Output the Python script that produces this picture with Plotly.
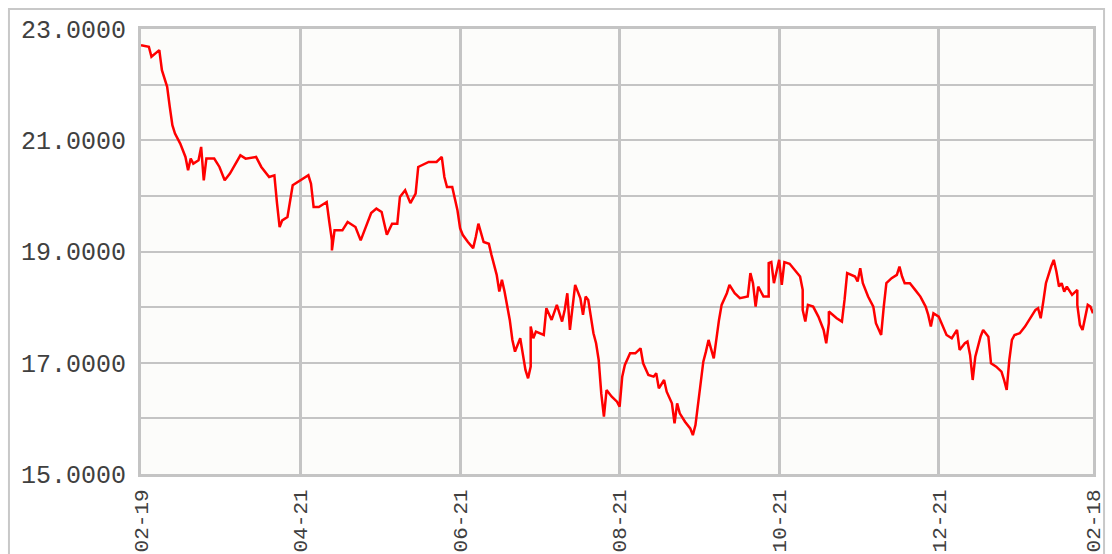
import pandas as pd
import plotly.graph_objects as go

# Days since 2021-02-19 and closing values
start_date = "2021-02-19"
day_offsets = [0, 3, 4, 6, 7, 8, 10, 11, 12, 13, 15, 17, 18, 19, 20, 22, 23, 24, 25, 28,
               30, 32, 34, 38, 40, 44, 46, 49, 51, 52, 53, 54, 56, 58, 60, 64, 65, 66, 68, 71,
               72, 73, 73, 74, 77, 79, 82, 84, 88, 90, 92, 94, 96, 98, 99, 101, 103, 105, 106, 110,
               113, 115, 116, 117, 119, 120, 121, 122, 123, 125, 127, 128, 129, 131, 133, 134, 136, 137, 138, 139,
               141, 142, 143, 145, 146, 147, 148, 149, 149, 150, 151, 154, 155, 157, 159, 161, 162, 163, 164, 165,
               166, 168, 169, 170, 171, 173, 174, 175, 176, 177, 178, 180, 182, 183, 184, 185, 187, 189, 191, 192,
               194, 196, 197, 198, 200, 201, 203, 204, 205, 206, 208, 210, 211, 212, 213, 214, 215, 216, 217, 219,
               220, 221, 222, 224, 225, 227, 229, 232, 233, 234, 235, 236, 238, 240, 240, 241, 242, 243, 244, 245,
               246, 248, 250, 252, 253, 253, 254, 255, 257, 259, 261, 262, 263, 263, 266, 268, 269, 270, 273, 274,
               275, 276, 278, 280, 281, 283, 284, 285, 287, 289, 290, 291, 292, 294, 296, 298, 300, 301, 302, 303,
               305, 307, 308, 310, 312, 313, 315, 316, 317, 318, 319, 321, 322, 324, 325, 327, 329, 330, 331, 332,
               333, 334, 336, 338, 340, 342, 343, 344, 345, 346, 348, 349, 350, 351, 352, 353, 354, 356, 358, 358,
               359, 360, 362, 363, 364]
values = [22.71, 22.68, 22.50, 22.59, 22.62, 22.26, 21.96, 21.60, 21.27, 21.12, 20.94, 20.70, 20.46, 20.67, 20.58, 20.64, 20.88, 20.28, 20.67, 20.67,
          20.52, 20.28, 20.40, 20.73, 20.67, 20.70, 20.52, 20.34, 20.37, 19.87, 19.44, 19.56, 19.62, 20.19, 20.25, 20.37, 20.22, 19.80, 19.80, 19.89,
          19.53, 19.20, 19.02, 19.38, 19.38, 19.53, 19.44, 19.20, 19.69, 19.77, 19.71, 19.30, 19.50, 19.50, 19.98, 20.10, 19.87, 20.04, 20.52, 20.61,
          20.61, 20.70, 20.34, 20.16, 20.16, 19.92, 19.74, 19.42, 19.30, 19.17, 19.06, 19.26, 19.50, 19.17, 19.14, 18.94, 18.58, 18.28, 18.49, 18.28,
          17.77, 17.41, 17.20, 17.44, 17.11, 16.87, 16.72, 16.93, 17.65, 17.44, 17.56, 17.50, 17.98, 17.77, 18.04, 17.74, 17.95, 18.25, 17.59, 18.01,
          18.40, 18.16, 17.86, 18.19, 18.13, 17.53, 17.35, 17.05, 16.44, 16.03, 16.51, 16.39, 16.30, 16.21, 16.75, 16.96, 17.17, 17.17, 17.26, 16.99,
          16.78, 16.75, 16.81, 16.54, 16.69, 16.48, 16.27, 15.91, 16.27, 16.09, 15.94, 15.82, 15.70, 15.88, 16.27, 16.63, 17.02, 17.20, 17.41, 17.08,
          17.47, 17.77, 18.04, 18.25, 18.40, 18.25, 18.16, 18.19, 18.61, 18.43, 18.01, 18.37, 18.19, 18.19, 18.79, 18.81, 18.43, 18.67, 18.85, 18.40,
          18.81, 18.78, 18.67, 18.55, 18.31, 17.95, 17.74, 18.04, 18.01, 17.83, 17.59, 17.35, 17.71, 17.92, 17.80, 17.74, 18.13, 18.61, 18.55, 18.46,
          18.70, 18.43, 18.19, 18.01, 17.71, 17.50, 18.01, 18.43, 18.52, 18.58, 18.73, 18.55, 18.43, 18.43, 18.31, 18.19, 18.01, 17.86, 17.65, 17.89,
          17.83, 17.62, 17.50, 17.44, 17.59, 17.23, 17.35, 17.38, 17.14, 16.69, 17.11, 17.47, 17.59, 17.47, 16.99, 16.93, 16.84, 16.69, 16.51, 17.05,
          17.41, 17.50, 17.53, 17.65, 17.80, 17.95, 17.98, 17.80, 18.10, 18.43, 18.73, 18.85, 18.64, 18.37, 18.43, 18.28, 18.37, 18.22, 18.31, 18.04,
          17.68, 17.59, 18.04, 18.01, 17.89]

x_tick_dates = ["2021-02-19", "2021-04-21", "2021-06-21", "2021-08-21", "2021-10-21", "2021-12-21", "2022-02-18"]
x_tick_labels = ["02-19", "04-21", "06-21", "08-21", "10-21", "12-21", "02-18"]
y_tick_values = [15, 16, 17, 18, 19, 20, 21, 22, 23]
y_tick_labels = ["15.0000", "", "17.0000", "", "19.0000", "", "21.0000", "", "23.0000"]

dates = pd.Timestamp(start_date) + pd.to_timedelta(day_offsets, unit="D")

fig = go.Figure()
fig.add_trace(go.Scatter(
    x=dates, y=values, mode="lines",
    line=dict(color="#ff0000", width=2.5),
    hoverinfo="x+y", showlegend=False,
))

grid = "#c4c4c4"
fig.update_layout(
    width=1112, height=554,
    margin=dict(l=141, r=19, t=29, b=80, autoexpand=False),
    paper_bgcolor="#ffffff",
    plot_bgcolor="#fcfcfa",
    font=dict(family="Liberation Mono, DejaVu Sans Mono, monospace", color="#404040"),
    xaxis=dict(
        type="date", automargin=False,
        range=[x_tick_dates[0], x_tick_dates[-1]],
        tickmode="array", tickvals=x_tick_dates, ticktext=x_tick_labels,
        tickangle=-90, tickfont=dict(size=21, color="#404040"),
        showgrid=True, gridcolor=grid, gridwidth=3,
        showline=True, linecolor=grid, linewidth=3, mirror=True,
        ticks="outside", ticklen=4, tickcolor="rgba(0,0,0,0)",
        zeroline=False,
    ),
    yaxis=dict(
        automargin=False,
        range=[15, 23],
        tickmode="array", tickvals=y_tick_values, ticktext=y_tick_labels,
        tickfont=dict(size=25, color="#404040"),
        showgrid=True, gridcolor=grid, gridwidth=2,
        showline=True, linecolor=grid, linewidth=3, mirror=True,
        ticks="outside", ticklen=7, tickcolor="rgba(0,0,0,0)",
        zeroline=False,
    ),
    shapes=[dict(
        type="rect", xref="paper", yref="paper",
        x0=-0.1387, x1=1.0116, y0=-0.25, y1=1.0449,
        line=dict(color="#c8c8c8", width=2), fillcolor="rgba(0,0,0,0)", layer="below",
    )],
)

fig.write_html(
    "out.html",
    config={"displayModeBar": False},
    post_script="document.body.style.margin='0';document.body.style.overflow='hidden';",
)
